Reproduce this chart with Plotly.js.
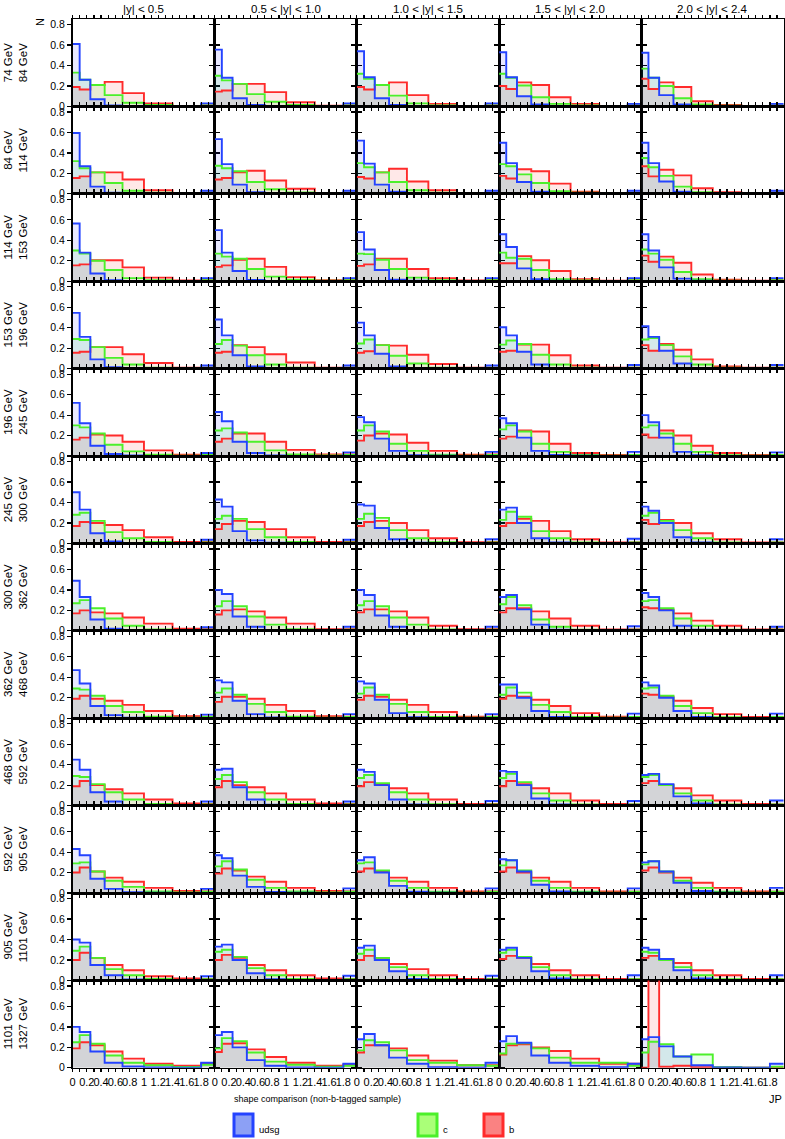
<!DOCTYPE html>
<html><head><meta charset="utf-8">
<script src="https://cdn.plot.ly/plotly-3.0.1.min.js"></script>
<style>html,body{margin:0;padding:0;background:#fff}#chart{width:785px;height:1139px}</style>
</head><body><div id="chart"></div>
<script>
// JP bin edges (last bin = overflow)
const binEdges = [0, 0.1, 0.25, 0.45, 0.7, 1.0, 1.4, 1.8, 2.0];
const ptLabels = ["74 GeV<br>84 GeV","84 GeV<br>114 GeV","114 GeV<br>153 GeV","153 GeV<br>196 GeV","196 GeV<br>245 GeV","245 GeV<br>300 GeV","300 GeV<br>362 GeV","362 GeV<br>468 GeV","468 GeV<br>592 GeV","592 GeV<br>905 GeV","905 GeV<br>1101 GeV","1101 GeV<br>1327 GeV"];
const rapLabels = ["|y| < 0.5","0.5 < |y| < 1.0","1.0 < |y| < 1.5","1.5 < |y| < 2.0","2.0 < |y| < 2.4"];
const xTickVals = [0,0.1,0.2,0.3,0.4,0.5,0.6,0.7,0.8,0.9,1.0,1.1,1.2,1.3,1.4,1.5,1.6,1.7,1.8,1.9];
const xTickText = ["0","","0.2","","0.4","","0.6","","0.8","","1","","1.2","","1.4","","1.6","","1.8",""];
const yTickVals = [0,0.2,0.4,0.6,0.8];
const yTickText = ["0","0.2","0.4","0.6","0.8"];
const seriesNames = ["udsg","c","b"];

// row 1: 74-84 GeV (5 rapidity columns x 8 bins)
const udsg_1 = [[0.61,0.26,0.07,0.01,0.003,0,0,0.03],[0.555,0.28,0.08,0.015,0.005,0,0,0.03],[0.54,0.285,0.08,0.015,0.003,0,0,0.03],[0.53,0.285,0.10,0.02,0.003,0,0,0.025],[0.525,0.28,0.11,0.02,0.003,0,0,0.025]];
const c_1 = [[0.33,0.26,0.21,0.11,0.035,0.015,0.005,0.01],[0.30,0.255,0.22,0.12,0.045,0.015,0.005,0.01],[0.32,0.27,0.21,0.105,0.03,0.01,0.003,0.01],[0.32,0.28,0.205,0.09,0.025,0.01,0.003,0.01],[0.37,0.28,0.20,0.08,0.02,0.008,0.003,0.01]];
const b_1 = [[0.19,0.165,0.21,0.24,0.13,0.03,0.005,0.01],[0.145,0.155,0.22,0.22,0.14,0.04,0.008,0.01],[0.19,0.165,0.21,0.235,0.11,0.025,0.005,0.01],[0.20,0.17,0.235,0.21,0.09,0.025,0.005,0.01],[0.27,0.17,0.235,0.19,0.05,0.015,0.005,0.01]];
// row 2: 84-114 GeV
const udsg_2 = [[0.595,0.27,0.07,0.01,0.003,0,0,0.03],[0.535,0.29,0.09,0.015,0.004,0,0,0.03],[0.52,0.295,0.09,0.02,0.004,0,0,0.03],[0.50,0.30,0.115,0.02,0.004,0,0,0.03],[0.50,0.30,0.12,0.02,0.004,0,0,0.03]];
const c_2 = [[0.32,0.25,0.21,0.105,0.03,0.01,0.003,0.01],[0.275,0.25,0.22,0.115,0.045,0.013,0.004,0.01],[0.30,0.26,0.21,0.115,0.035,0.01,0.003,0.01],[0.29,0.27,0.19,0.105,0.025,0.01,0.003,0.01],[0.35,0.26,0.175,0.07,0.015,0.005,0.002,0.01]];
const b_2 = [[0.155,0.17,0.21,0.21,0.14,0.035,0.007,0.01],[0.14,0.155,0.21,0.225,0.13,0.05,0.007,0.01],[0.165,0.15,0.21,0.245,0.12,0.035,0.007,0.01],[0.175,0.15,0.24,0.22,0.10,0.02,0.005,0.01],[0.27,0.17,0.235,0.18,0.055,0.015,0.005,0.01]];
// row 3: 114-153 GeV
const udsg_3 = [[0.565,0.28,0.075,0.01,0.003,0,0,0.03],[0.50,0.28,0.10,0.012,0.003,0,0,0.03],[0.48,0.31,0.11,0.015,0.004,0,0,0.03],[0.46,0.335,0.125,0.02,0.004,0,0,0.03],[0.46,0.30,0.135,0.025,0.004,0,0,0.03]];
const c_3 = [[0.30,0.27,0.20,0.11,0.03,0.01,0.003,0.01],[0.27,0.24,0.22,0.12,0.045,0.015,0.004,0.01],[0.27,0.265,0.21,0.12,0.035,0.01,0.003,0.01],[0.28,0.23,0.22,0.11,0.02,0.008,0.003,0.01],[0.31,0.27,0.21,0.09,0.02,0.006,0.002,0.01]];
const b_3 = [[0.155,0.165,0.205,0.205,0.135,0.035,0.007,0.01],[0.14,0.155,0.21,0.22,0.14,0.04,0.01,0.01],[0.15,0.165,0.22,0.22,0.12,0.03,0.007,0.01],[0.175,0.175,0.245,0.205,0.10,0.02,0.005,0.01],[0.25,0.19,0.24,0.18,0.065,0.015,0.005,0.01]];
// row 4: 153-196 GeV
const udsg_4 = [[0.545,0.31,0.09,0.013,0.003,0,0,0.03],[0.48,0.325,0.13,0.02,0.004,0,0,0.03],[0.45,0.325,0.145,0.02,0.004,0,0,0.03],[0.405,0.325,0.165,0.04,0.006,0,0,0.035],[0.415,0.31,0.175,0.05,0.006,0,0,0.035]];
const c_4 = [[0.29,0.28,0.21,0.105,0.04,0.01,0.003,0.01],[0.24,0.28,0.225,0.13,0.04,0.01,0.003,0.01],[0.245,0.285,0.23,0.125,0.05,0.01,0.003,0.01],[0.235,0.275,0.24,0.135,0.04,0.01,0.003,0.01],[0.285,0.30,0.23,0.12,0.04,0.008,0.003,0.01]];
const b_4 = [[0.155,0.165,0.21,0.21,0.14,0.055,0.01,0.01],[0.155,0.165,0.23,0.21,0.14,0.06,0.01,0.01],[0.155,0.17,0.23,0.225,0.135,0.045,0.01,0.01],[0.165,0.175,0.235,0.235,0.13,0.03,0.01,0.01],[0.23,0.175,0.24,0.185,0.09,0.02,0.01,0.01]];
// row 5: 196-245 GeV
const udsg_5 = [[0.52,0.32,0.10,0.02,0.005,0,0,0.03],[0.43,0.34,0.14,0.03,0.006,0,0,0.035],[0.38,0.33,0.17,0.05,0.008,0.002,0,0.04],[0.37,0.32,0.18,0.05,0.01,0.002,0,0.04],[0.40,0.33,0.18,0.04,0.008,0,0,0.035]];
const c_5 = [[0.30,0.28,0.22,0.11,0.045,0.012,0.004,0.01],[0.25,0.27,0.23,0.14,0.055,0.015,0.005,0.01],[0.25,0.30,0.24,0.12,0.05,0.012,0.004,0.01],[0.26,0.30,0.24,0.12,0.04,0.01,0.003,0.01],[0.28,0.30,0.22,0.12,0.04,0.008,0.003,0.01]];
const b_5 = [[0.16,0.18,0.21,0.20,0.14,0.055,0.012,0.015],[0.14,0.17,0.22,0.22,0.14,0.06,0.015,0.015],[0.15,0.20,0.22,0.21,0.13,0.05,0.012,0.015],[0.17,0.19,0.25,0.24,0.12,0.03,0.01,0.01],[0.21,0.18,0.25,0.20,0.10,0.03,0.01,0.01]];
// row 6: 245-300 GeV
const udsg_6 = [[0.50,0.33,0.10,0.02,0.005,0,0,0.035],[0.43,0.36,0.12,0.03,0.006,0,0,0.035],[0.38,0.37,0.15,0.04,0.008,0.002,0,0.04],[0.33,0.35,0.20,0.05,0.01,0.002,0,0.045],[0.36,0.32,0.20,0.06,0.01,0.002,0,0.04]];
const c_6 = [[0.28,0.30,0.22,0.11,0.05,0.013,0.004,0.01],[0.24,0.27,0.24,0.14,0.06,0.015,0.005,0.01],[0.24,0.29,0.25,0.13,0.05,0.012,0.004,0.01],[0.23,0.31,0.26,0.12,0.05,0.01,0.003,0.01],[0.27,0.30,0.22,0.13,0.05,0.01,0.003,0.01]];
const b_6 = [[0.17,0.21,0.20,0.18,0.13,0.06,0.015,0.015],[0.14,0.19,0.22,0.21,0.14,0.06,0.015,0.015],[0.17,0.21,0.22,0.20,0.13,0.05,0.012,0.015],[0.17,0.20,0.24,0.22,0.12,0.04,0.01,0.01],[0.23,0.19,0.23,0.20,0.10,0.04,0.01,0.01]];
// row 7: 300-362 GeV
const udsg_7 = [[0.49,0.33,0.11,0.02,0.005,0,0,0.035],[0.40,0.36,0.14,0.04,0.007,0.002,0,0.04],[0.40,0.35,0.15,0.04,0.008,0.002,0,0.04],[0.33,0.35,0.21,0.06,0.01,0.002,0,0.045],[0.37,0.33,0.20,0.05,0.01,0.002,0,0.04]];
const c_7 = [[0.27,0.30,0.22,0.12,0.05,0.014,0.004,0.01],[0.24,0.29,0.24,0.14,0.06,0.015,0.005,0.01],[0.25,0.29,0.24,0.13,0.06,0.012,0.004,0.01],[0.26,0.33,0.25,0.11,0.04,0.01,0.003,0.01],[0.29,0.30,0.22,0.12,0.05,0.01,0.003,0.01]];
const b_7 = [[0.17,0.20,0.18,0.17,0.13,0.07,0.02,0.015],[0.16,0.20,0.21,0.19,0.13,0.07,0.015,0.015],[0.18,0.21,0.21,0.19,0.13,0.05,0.015,0.015],[0.18,0.22,0.22,0.19,0.12,0.05,0.012,0.012],[0.23,0.22,0.21,0.17,0.10,0.05,0.012,0.012]];
// row 8: 362-468 GeV
const udsg_8 = [[0.47,0.34,0.12,0.03,0.006,0.001,0,0.035],[0.37,0.35,0.17,0.04,0.008,0.002,0,0.04],[0.36,0.34,0.18,0.05,0.01,0.002,0,0.04],[0.33,0.33,0.20,0.07,0.012,0.003,0,0.045],[0.35,0.32,0.20,0.07,0.012,0.003,0,0.045]];
const c_8 = [[0.29,0.28,0.22,0.12,0.06,0.015,0.005,0.012],[0.25,0.29,0.23,0.14,0.06,0.015,0.005,0.012],[0.24,0.30,0.23,0.14,0.06,0.013,0.004,0.012],[0.23,0.30,0.25,0.13,0.06,0.012,0.004,0.012],[0.29,0.30,0.22,0.12,0.05,0.01,0.003,0.012]];
const b_8 = [[0.19,0.22,0.19,0.17,0.13,0.07,0.02,0.015],[0.16,0.21,0.21,0.19,0.13,0.07,0.02,0.015],[0.18,0.22,0.21,0.18,0.13,0.06,0.015,0.015],[0.19,0.22,0.21,0.18,0.12,0.05,0.015,0.012],[0.24,0.23,0.21,0.17,0.10,0.04,0.012,0.012]];
// row 9: 468-592 GeV
const udsg_9 = [[0.45,0.35,0.13,0.04,0.007,0.002,0,0.04],[0.35,0.36,0.18,0.06,0.01,0.002,0,0.04],[0.35,0.33,0.20,0.06,0.012,0.003,0,0.045],[0.34,0.33,0.20,0.07,0.012,0.003,0,0.045],[0.30,0.31,0.21,0.09,0.02,0.004,0,0.05]];
const c_9 = [[0.29,0.28,0.21,0.13,0.06,0.015,0.005,0.012],[0.26,0.30,0.23,0.13,0.06,0.015,0.005,0.012],[0.27,0.30,0.22,0.13,0.06,0.013,0.004,0.012],[0.27,0.31,0.23,0.12,0.05,0.012,0.004,0.012],[0.28,0.30,0.20,0.12,0.05,0.012,0.004,0.012]];
const b_9 = [[0.19,0.24,0.20,0.16,0.12,0.06,0.02,0.015],[0.18,0.24,0.20,0.18,0.12,0.06,0.02,0.015],[0.19,0.23,0.21,0.17,0.12,0.06,0.015,0.015],[0.19,0.24,0.21,0.17,0.12,0.05,0.015,0.012],[0.22,0.24,0.20,0.17,0.10,0.05,0.015,0.012]];
// row 10: 592-905 GeV
const udsg_10 = [[0.43,0.37,0.14,0.04,0.008,0.002,0,0.04],[0.37,0.34,0.17,0.06,0.01,0.002,0,0.045],[0.32,0.35,0.20,0.07,0.012,0.003,0,0.045],[0.33,0.32,0.21,0.08,0.015,0.003,0,0.045],[0.30,0.31,0.21,0.10,0.02,0.004,0,0.05]];
const c_10 = [[0.29,0.30,0.21,0.12,0.06,0.015,0.005,0.012],[0.26,0.31,0.23,0.13,0.05,0.015,0.005,0.012],[0.29,0.30,0.22,0.12,0.05,0.013,0.004,0.012],[0.27,0.32,0.22,0.12,0.05,0.012,0.004,0.012],[0.28,0.31,0.21,0.12,0.05,0.012,0.004,0.012]];
const b_10 = [[0.20,0.25,0.21,0.15,0.11,0.05,0.02,0.015],[0.19,0.24,0.22,0.16,0.11,0.05,0.02,0.015],[0.21,0.24,0.21,0.15,0.11,0.05,0.015,0.015],[0.21,0.25,0.20,0.15,0.11,0.05,0.015,0.012],[0.22,0.25,0.20,0.15,0.10,0.05,0.015,0.012]];
// row 11: 905-1101 GeV
const udsg_11 = [[0.40,0.37,0.15,0.05,0.01,0.002,0,0.04],[0.33,0.35,0.20,0.07,0.012,0.003,0,0.045],[0.32,0.34,0.20,0.09,0.015,0.003,0,0.045],[0.30,0.32,0.22,0.09,0.02,0.004,0,0.05],[0.32,0.30,0.21,0.10,0.02,0.004,0,0.05]];
const c_11 = [[0.29,0.33,0.22,0.11,0.05,0.015,0.005,0.012],[0.28,0.30,0.23,0.12,0.05,0.015,0.005,0.012],[0.26,0.30,0.22,0.13,0.05,0.013,0.004,0.012],[0.27,0.30,0.23,0.13,0.05,0.012,0.004,0.012],[0.28,0.27,0.20,0.13,0.05,0.012,0.004,0.012]];
const b_11 = [[0.20,0.27,0.22,0.15,0.10,0.04,0.02,0.015],[0.20,0.25,0.22,0.15,0.10,0.05,0.02,0.015],[0.20,0.24,0.22,0.16,0.11,0.05,0.015,0.015],[0.21,0.24,0.22,0.16,0.10,0.05,0.015,0.012],[0.22,0.24,0.21,0.17,0.10,0.05,0.015,0.012]];
// row 12: 1101-1327 GeV
const udsg_12 = [[0.40,0.35,0.16,0.05,0.013,0.003,0,0.05],[0.32,0.35,0.20,0.075,0.02,0.004,0,0.04],[0.28,0.33,0.22,0.10,0.04,0.005,0,0.05],[0.26,0.31,0.245,0.12,0.05,0.02,0.005,0.04],[0.28,0.30,0.21,0.11,0.025,0.003,0,0.04]];
const c_12 = [[0.25,0.32,0.235,0.12,0.05,0.025,0.008,0.03],[0.19,0.29,0.26,0.15,0.06,0.03,0.01,0.02],[0.17,0.27,0.25,0.17,0.075,0.05,0.025,0.02],[0.14,0.235,0.24,0.19,0.10,0.05,0.05,0.02],[0.15,0.255,0.23,0.11,0.13,0.005,0.002,0.01]];
const b_12 = [[0.19,0.25,0.22,0.16,0.09,0.04,0.02,0.04],[0.155,0.235,0.24,0.18,0.105,0.05,0.02,0.03],[0.15,0.22,0.22,0.19,0.12,0.07,0.025,0.025],[0.13,0.22,0.23,0.20,0.165,0.09,0.04,0.04],[0,0.95,0.01,0.02,0.005,0,0,0]];

const udsgRows = [udsg_1,udsg_2,udsg_3,udsg_4,udsg_5,udsg_6,udsg_7,udsg_8,udsg_9,udsg_10,udsg_11,udsg_12];
const cRows = [c_1,c_2,c_3,c_4,c_5,c_6,c_7,c_8,c_9,c_10,c_11,c_12];
const bRows = [b_1,b_2,b_3,b_4,b_5,b_6,b_7,b_8,b_9,b_10,b_11,b_12];

// ---- styling / geometry ----
const W = 785, H = 1139;
const xLeft = 72.5, colW = 142.2, yTop = 19, rowH = 87.4;
const lineCol = {udsg:'#2443ff', c:'#4cf02a', b:'#ff2b2b'};
const fillCol = {udsg:'rgba(0,0,255,0.09)', c:'rgba(0,255,0,0.09)', b:'rgba(255,0,0,0.09)'};
const font = 'Liberation Sans, Arial, Helvetica, sans-serif';

const traces = [];
const layout = {
  width: W, height: H, margin:{l:0,r:0,t:0,b:0},
  paper_bgcolor:'#fff', plot_bgcolor:'#fff', showlegend:false,
  font:{family:font, size:11, color:'#000'},
  annotations:[], shapes:[]
};
const px = x => x / W;
const py = y => 1 - y / H;

for (let r = 0; r < 12; r++) {
  for (let c = 0; c < 5; c++) {
    const i = r * 5 + c + 1;
    const xa = i === 1 ? 'x' : 'x' + i;
    const ya = i === 1 ? 'y' : 'y' + i;
    const xk = i === 1 ? 'xaxis' : 'xaxis' + i;
    const yk = i === 1 ? 'yaxis' : 'yaxis' + i;
    const x0 = xLeft + c * colW, y0 = yTop + r * rowH;
    layout[xk] = {
      domain:[px(x0), px(x0 + colW)], anchor: ya, range:[0, 1.99],
      tickmode:'array', tickvals:xTickVals, ticktext:xTickText, tickangle:0,
      showticklabels: r === 11, ticks:'outside', ticklen:3, tickwidth:1.2, tickcolor:'#000',
      showline:true, linewidth:1.5, linecolor:'#000', mirror:'allticks',
      showgrid:false, zeroline:false, fixedrange:true,
      tickfont:{family:font, size:11, color:'#000'}
    };
    layout[yk] = {
      domain:[py(y0 + rowH), py(y0)], anchor: xa, range:[0, 0.855],
      tickmode:'array', tickvals:yTickVals, ticktext:yTickText, tickangle:0,
      showticklabels: c === 0, ticks:'outside', ticklen:4, tickwidth:1.2, tickcolor:'#000',
      showline:true, linewidth:1.5, linecolor:'#000', mirror:'allticks',
      showgrid:false, zeroline:false, fixedrange:true,
      tickfont:{family:font, size:10.5, color:'#000'}
    };
    const sets = {udsg: udsgRows[r][c], c: cRows[r][c], b: bRows[r][c]};
    const order = ['b','c','udsg'];
    for (const s of order) {
      const v = sets[s];
      traces.push({type:'scatter', mode:'lines', x: binEdges, y: v.concat([v[v.length-1]]),
        xaxis: xa, yaxis: ya, line:{shape:'hv', width:0, color:lineCol[s]},
        fill:'tozeroy', fillcolor: fillCol[s], hoverinfo:'skip', name:s});
    }
    for (const s of order) {
      const v = sets[s];
      traces.push({type:'scatter', mode:'lines', x: binEdges, y: v.concat([v[v.length-1]]),
        xaxis: xa, yaxis: ya, line:{shape:'hv', width:1.9, color:lineCol[s]},
        hoverinfo:'skip', name:s});
    }
  }
  // row label
  layout.annotations.push({xref:'paper', yref:'paper', x:px(15.5), y:py(yTop + r*rowH + rowH/2),
    text: ptLabels[r], showarrow:false, textangle:-90, xanchor:'center', yanchor:'middle',
    font:{family:font, size:11.5, color:'#000'}});
}
// column titles
for (let c = 0; c < 5; c++) {
  layout.annotations.push({xref:'paper', yref:'paper', x:px(xLeft + c*colW + colW/2), y:py(9),
    text: rapLabels[c], showarrow:false, xanchor:'center', yanchor:'middle',
    font:{family:font, size:11.5, color:'#000'}});
}
// axis titles
layout.annotations.push({xref:'paper', yref:'paper', x:px(40), y:py(22), text:'N', textangle:-90,
  showarrow:false, xanchor:'center', yanchor:'middle', font:{family:font, size:11, color:'#000'}});
layout.annotations.push({xref:'paper', yref:'paper', x:px(784), y:py(1099), text:'JP',
  showarrow:false, xanchor:'right', yanchor:'middle', font:{family:font, size:11, color:'#000'}});
// legend title
layout.annotations.push({xref:'paper', yref:'paper', x:px(232), y:py(1099), text:'shape comparison (non-b-tagged sample)',
  showarrow:false, xanchor:'left', yanchor:'middle', font:{family:font, size:9, color:'#000'}});
// legend entries
const legendPos = [{s:'udsg', x:234, fill:'rgb(140,160,245)'}, {s:'c', x:418, fill:'rgb(170,255,120)'}, {s:'b', x:484, fill:'rgb(250,130,130)'}];
for (const L of legendPos) {
  layout.shapes.push({type:'rect', xref:'paper', yref:'paper', x0:px(L.x), x1:px(L.x+19), y0:py(1136), y1:py(1114),
    fillcolor:L.fill, line:{color:lineCol[L.s], width:3}});
  layout.annotations.push({xref:'paper', yref:'paper', x:px(L.x+23), y:py(1129), text:L.s,
    showarrow:false, xanchor:'left', yanchor:'middle', font:{family:font, size:9.5, color:'#000'}});
}

Plotly.newPlot('chart', traces, layout, {staticPlot:true, displayModeBar:false});
</script></body></html>
